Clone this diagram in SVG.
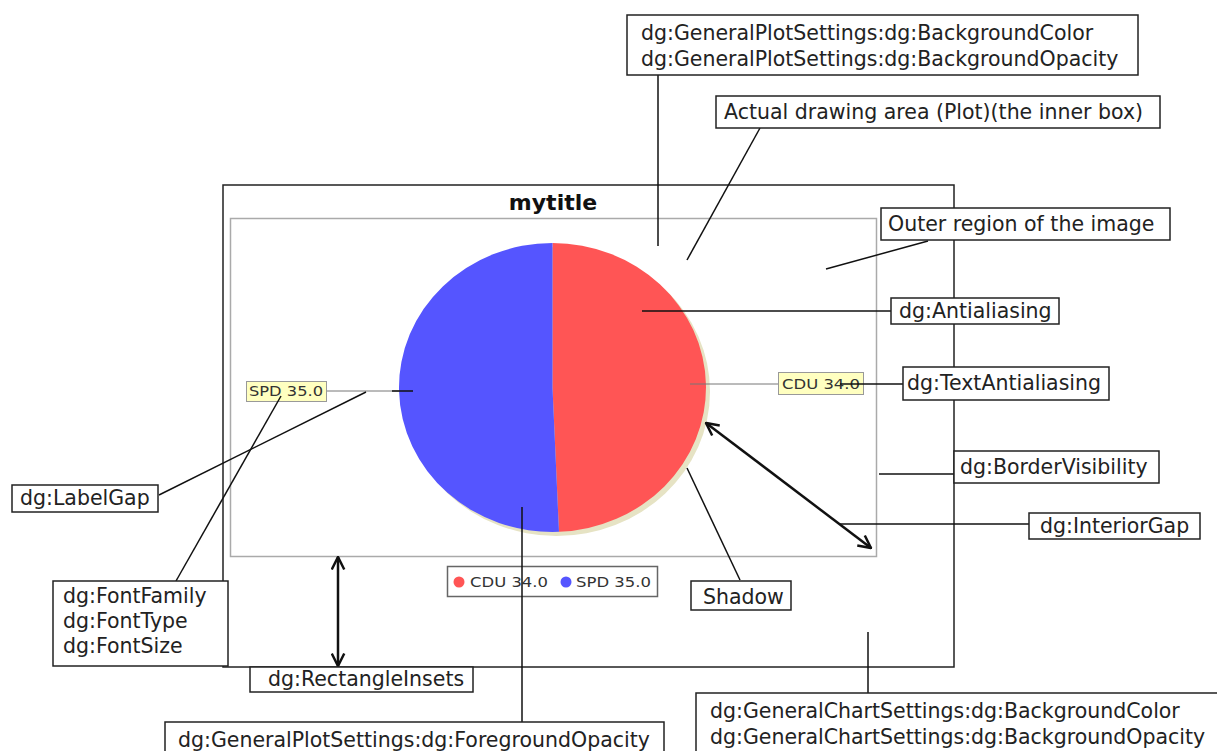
<svg xmlns="http://www.w3.org/2000/svg" width="1217" height="751" viewBox="0 0 1217 751">
<style>
.box{fill:#fff;stroke:#222;stroke-width:1.5}
.t{font-family:"DejaVu Sans",sans-serif;font-size:20.5px;fill:#222}
.ln{stroke:#111;stroke-width:1.5;fill:none}
.dbl{stroke:#111;stroke-width:2.5;fill:none;marker-start:url(#ah);marker-end:url(#ah)}
.lbl{fill:#ffffc0;stroke:#999;stroke-width:1}
.lt{font-family:"DejaVu Sans",sans-serif;font-size:14px;fill:#333}
.link{stroke:#777;stroke-width:1}
</style>
<defs>
<marker id="ah" viewBox="0 0 12 12" refX="11" refY="6" markerWidth="15" markerHeight="15" markerUnits="userSpaceOnUse" orient="auto-start-reverse">
<path d="M1,1 L11,6 L1,11" fill="none" stroke="#111" stroke-width="2"/>
</marker>
</defs>
<rect width="1217" height="751" fill="#fff"/>
<g id="chart">
<rect x="223" y="185" width="731" height="482" fill="#fff" stroke="#222" stroke-width="1.5"/>
<text x="553" y="210" text-anchor="middle" font-family="DejaVu Sans, sans-serif" font-size="22" font-weight="bold" fill="#111">mytitle</text>
<rect x="230.5" y="218.5" width="646" height="338" fill="#fff" stroke="#aaa" stroke-width="1.5"/>
<ellipse cx="556.5" cy="391.5" rx="153.5" ry="144.5" fill="#e6e3c4"/>
<path d="M552.5,387.5 L552.5,243 A153.5,144.5 0 0 1 559,531.87 Z" fill="#ff5555"/>
<path d="M552.5,387.5 L559,531.87 A153.5,144.5 0 1 1 552.5,243 Z" fill="#5555ff"/>
<line class="link" x1="327" y1="391" x2="400" y2="391"/>
<line class="link" x1="690" y1="384" x2="778" y2="384"/>
<rect class="lbl" x="246.5" y="381.5" width="80" height="20"/>
<text class="lt" x="249" y="396" textLength="74" lengthAdjust="spacingAndGlyphs">SPD 35.0</text>
<rect class="lbl" x="778.5" y="372.5" width="85" height="22"/>
<text class="lt" x="782" y="389" textLength="78" lengthAdjust="spacingAndGlyphs">CDU 34.0</text>
<rect x="447.5" y="566.5" width="210" height="30" fill="#fff" stroke="#666" stroke-width="1.5"/>
<circle cx="459" cy="582" r="5.5" fill="#ff5555"/>
<text class="lt" x="470" y="587" textLength="78" lengthAdjust="spacingAndGlyphs" fill="#555">CDU 34.0</text>
<circle cx="566" cy="582" r="5.5" fill="#5555ff"/>
<text class="lt" x="576" y="587" textLength="75" lengthAdjust="spacingAndGlyphs" fill="#555">SPD 35.0</text>
</g>
<g id="connectors">
<line class="ln" x1="658" y1="75" x2="658" y2="246"/>
<line class="ln" x1="760" y1="128" x2="687" y2="260"/>
<line class="ln" x1="928" y1="241" x2="826" y2="269"/>
<line class="ln" x1="891" y1="311" x2="642" y2="311"/>
<line class="ln" x1="903" y1="384" x2="840" y2="384"/>
<line class="ln" x1="954" y1="474" x2="879" y2="474"/>
<line class="ln" x1="1029" y1="524" x2="840" y2="524"/>
<line class="dbl" x1="706" y1="423" x2="871" y2="548"/>
<line class="ln" x1="740" y1="580" x2="687" y2="468"/>
<line class="ln" x1="522" y1="507" x2="522" y2="722"/>
<line class="dbl" x1="338" y1="557" x2="338" y2="666"/>
<line class="ln" x1="868" y1="632" x2="868" y2="693"/>
<line class="ln" x1="159" y1="495" x2="366" y2="392"/>
<line class="ln" x1="176" y1="581" x2="281" y2="396"/>
<line class="ln" x1="392" y1="391" x2="413" y2="391"/>
</g>
<g id="n-plotbg"><rect class="box" x="627" y="15" width="511" height="60"/>
<text class="t" x="641" y="40">dg:GeneralPlotSettings:dg:BackgroundColor</text>
<text class="t" x="641" y="66">dg:GeneralPlotSettings:dg:BackgroundOpacity</text></g>
<g id="n-plot"><rect class="box" x="716" y="96" width="444" height="32"/>
<text class="t" x="724" y="119">Actual drawing area (Plot)(the inner box)</text></g>
<g id="n-outer"><rect class="box" x="881" y="208" width="289" height="32"/>
<text class="t" x="888" y="231">Outer region of the image</text></g>
<g id="n-antialias"><rect class="box" x="891" y="298" width="168" height="26"/>
<text class="t" x="899" y="318">dg:Antialiasing</text></g>
<g id="n-textantialias"><rect class="box" x="903" y="367" width="206" height="33"/>
<text class="t" x="907" y="390">dg:TextAntialiasing</text></g>
<g id="n-border"><rect class="box" x="954" y="451" width="205" height="32"/>
<text class="t" x="960" y="474">dg:BorderVisibility</text></g>
<g id="n-interiorgap"><rect class="box" x="1029" y="513" width="171" height="26"/>
<text class="t" x="1040" y="533">dg:InteriorGap</text></g>
<g id="n-shadow"><rect class="box" x="691" y="581" width="100" height="29"/>
<text class="t" x="703" y="604">Shadow</text></g>
<g id="n-chartbg"><rect class="box" x="696" y="693" width="530" height="70"/>
<text class="t" x="710" y="718">dg:GeneralChartSettings:dg:BackgroundColor</text>
<text class="t" x="710" y="744">dg:GeneralChartSettings:dg:BackgroundOpacity</text></g>
<g id="n-foreground"><rect class="box" x="165" y="722" width="499" height="40"/>
<text class="t" x="178" y="747">dg:GeneralPlotSettings:dg:ForegroundOpacity</text></g>
<g id="n-rectinsets"><rect class="box" x="250" y="667" width="223" height="25"/>
<text class="t" x="268" y="686">dg:RectangleInsets</text></g>
<g id="n-labelgap"><rect class="box" x="12" y="485" width="146" height="27"/>
<text class="t" x="20" y="505">dg:LabelGap</text></g>
<g id="n-font"><rect class="box" x="53" y="581" width="175" height="85"/>
<text class="t" x="63" y="603">dg:FontFamily</text>
<text class="t" x="63" y="628">dg:FontType</text>
<text class="t" x="63" y="653">dg:FontSize</text></g>
</svg>
